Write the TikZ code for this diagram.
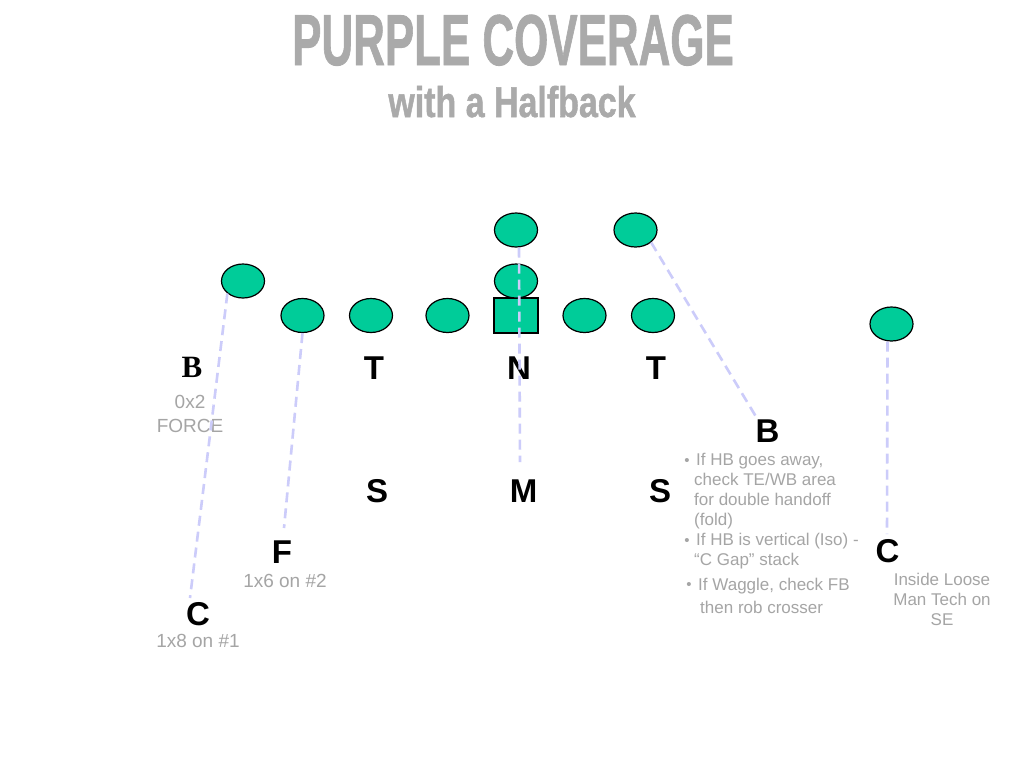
\documentclass[tikz,border=0pt]{standalone}
\usepackage{fontspec}
\setmainfont{Liberation Sans}
\newfontfamily\serifbold{Liberation Serif}
\newfontfamily\titlefont[FakeBold=1.3]{Liberation Sans}
\usetikzlibrary{shapes.geometric}
\definecolor{player}{RGB}{0,204,153}
\definecolor{titlegray}{RGB}{170,170,170}
\definecolor{notegray}{RGB}{165,165,165}
\definecolor{lav}{RGB}{204,204,250}
\begin{document}
\begin{tikzpicture}[x=1pt,y=-1pt,
  player/.style={ellipse, draw=black, line width=1.2pt, fill=player, minimum width=43pt, minimum height=34pt, inner sep=0pt},
  centerbox/.style={rectangle, draw=black, line width=1.2pt, fill=player, minimum width=44pt, minimum height=35pt, inner sep=0pt},
  posl/.style={anchor=base, inner sep=0pt, font=\fontsize{33}{33}\selectfont\bfseries},
  note/.style={anchor=base west, inner sep=0pt, text=notegray, font=\fontsize{17}{20}\selectfont},
  cnote/.style={anchor=base, inner sep=0pt, text=notegray, font=\fontsize{19}{22}\selectfont},
  snote/.style={anchor=base, inner sep=0pt, text=notegray, font=\fontsize{17}{20}\selectfont},
  bul/.style={anchor=base, inner sep=0pt, text=notegray, font=\fontsize{15}{15}\selectfont},
  cov/.style={draw=lav, line width=2.6pt, dash pattern=on 10pt off 6pt}]
\useasboundingbox (0,0) rectangle (1024,768);
\fill[white] (0,0) rectangle (1024,768);
% titles
\node[anchor=base, inner sep=0pt, text=titlegray] (title) at (513,65)
  {\fontsize{72}{72}\selectfont\titlefont\bfseries\scalebox{0.61}[1]{PURPLE COVERAGE}};
\node[anchor=base, inner sep=0pt, text=titlegray] (subtitle) at (512,117)
  {\fontsize{43}{43}\selectfont\titlefont\bfseries\scalebox{0.79}[1]{with a Halfback}};
% offense
\node[player] (wbL) at (243,281) {};
\node[player] (te) at (302.5,315.5) {};
\node[player] (lt) at (371,315.5) {};
\node[player] (lg) at (447.5,315.5) {};
\node[centerbox] (ctr) at (516,315.5) {};
\node[player] (qb) at (516,281) {};
\node[player] (hb) at (516,230) {};
\node[player] (fb) at (635.5,230) {};
\node[player] (rg) at (584.5,315.5) {};
\node[player] (rt) at (653,315.5) {};
\node[player] (se) at (891.5,324) {};
% defense letters
\node[anchor=base, inner sep=0pt, font=\fontsize{31}{31}\selectfont\serifbold\bfseries] (bL) at (192,377) {B};
\node[posl] (tL) at (374,379) {T};
\node[posl] (nN) at (519,379) {N};
\node[posl] (tR) at (656,379) {T};
\node[posl] (bR) at (767.5,442) {B};
\node[posl] (sL) at (377,502) {S};
\node[posl] (mM) at (523.5,502) {M};
\node[posl] (sR) at (660,502) {S};
\node[posl] (fF) at (282,563) {F};
\node[posl] (cL) at (198,625) {C};
\node[posl] (cR) at (887.5,562) {C};
% notes
\node[cnote] (n0x2) at (190,408) {0x2};
\node[cnote] (nforce) at (190,432) {FORCE};
\node[cnote] (n1x6) at (285,587) {1x6 on \#2};
\node[cnote] (n1x8) at (198,647) {1x8 on \#1};
\node[snote] (ins1) at (942,585) {Inside Loose};
\node[snote] (ins2) at (942,605) {Man Tech on};
\node[snote] (ins3) at (942,625) {SE};
\node[bul] (b1) at (687,465) {•};
\node[note] (l1) at (696,465) {If HB goes away,};
\node[note] (l2) at (694,485) {check TE/WB area};
\node[note] (l3) at (694,505) {for double handoff};
\node[note] (l4) at (694,525) {(fold)};
\node[bul] (b2) at (687,545) {•};
\node[note] (l5) at (696,545) {If HB is vertical (Iso) -};
\node[note] (l6) at (694,565) {“C Gap” stack};
\node[bul] (b3) at (689,589) {•};
\node[note] (l7) at (698,590) {If Waggle, check FB};
\node[note] (l8) at (700,613) {then rob crosser};
% coverage lines
\coordinate (endCL) at (190,598);
\coordinate (endF) at (284,528);
\coordinate (endM) at (520,462);
\coordinate (endBR) at (758,420);
\coordinate (endCR) at (887,534);
\draw[cov] (wbL.south west) -- (endCL);
\draw[cov] (te.south) -- (endF);
\draw[cov] ([xshift=3pt]hb.south) -- (endM);
\draw[cov] (fb.south east) -- (endBR);
\draw[cov] ([xshift=-4pt]se.south) -- (endCR);
\end{tikzpicture}
\end{document}
